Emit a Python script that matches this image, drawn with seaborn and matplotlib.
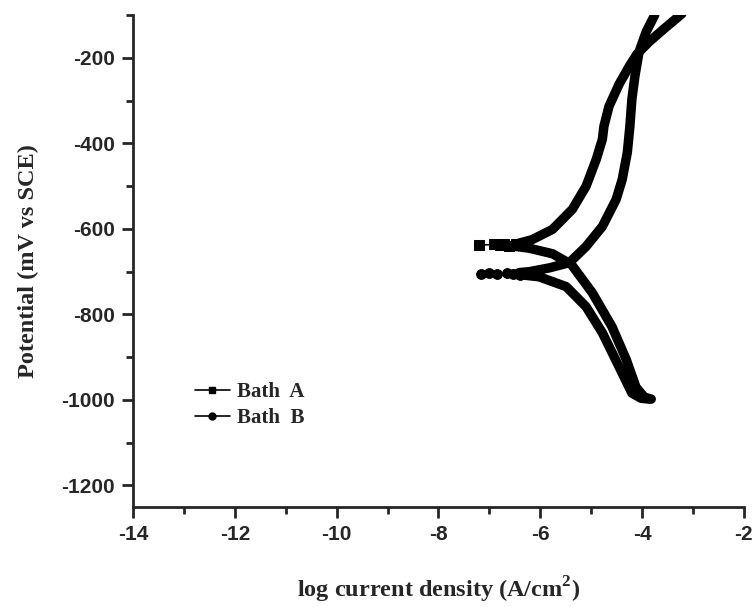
import numpy as np
import pandas as pd
import matplotlib
matplotlib.use('Agg')
import matplotlib.pyplot as plt
from matplotlib.lines import Line2D
from matplotlib.ticker import MultipleLocator
import seaborn as sns

# Tafel curves, in scan order (cathodic -> Ecorr -> anodic)
bath_a_logi = [-3.82, -3.96, -4.12, -4.31, -4.59, -4.98, -5.39, -5.76, -6.22,
               -6.61, -6.80, -7.20, -6.90, -6.71, -6.47,
               -6.16, -5.76, -5.37, -5.10, -4.90, -4.78, -4.75, -4.65, -4.45,
               -4.25, -4.10, -3.86, -3.57, -3.22]
bath_a_pot = [-998, -993, -970, -906, -829, -749, -683, -658, -645,
              -639, -638, -637, -636, -636, -635,
              -625, -601, -554, -500, -437, -390, -360, -313, -261,
              -219, -191, -162, -132, -97]

bath_b_logi = [-3.86, -4.02, -4.20, -4.45, -4.78, -5.10, -5.49, -6.02, -6.40,
               -6.53, -6.86, -7.16, -7.00, -6.65, -6.41, -6.22,
               -5.82, -5.43, -5.10, -4.78, -4.51, -4.39, -4.29, -4.24, -4.20,
               -4.14, -4.06, -3.92, -3.75]
bath_b_pot = [-998, -996, -984, -923, -843, -782, -735, -712, -707,
              -706, -706, -705, -704, -703, -702, -700,
              -691, -679, -641, -594, -531, -484, -421, -360, -296,
              -242, -186, -139, -99]

labels = ['Bath  A', 'Bath  B']
markers = ['s', 'o']

sns.set_style('ticks')
plt.rcParams['font.family'] = ['Liberation Sans', 'DejaVu Sans']
plt.rcParams['axes.unicode_minus'] = False
plt.rcParams['mathtext.fontset'] = 'custom'
plt.rcParams['mathtext.rm'] = 'Liberation Serif'
plt.rcParams['mathtext.bf'] = 'Liberation Serif:bold'

df = pd.concat([
    pd.DataFrame({'logi': bath_a_logi, 'pot': bath_a_pot, 'bath': labels[0]}),
    pd.DataFrame({'logi': bath_b_logi, 'pot': bath_b_pot, 'bath': labels[1]}),
], ignore_index=True)

fig = plt.figure(figsize=(7.56, 6.07), dpi=100)
ax = fig.add_axes([0.176, 0.165, 0.808, 0.81])

# thin line through every point, markers only where the scan is sparse (near Ecorr)
for name, m in zip(labels, markers):
    sub = df[df['bath'] == name].reset_index(drop=True)
    tail = list(sub.index[sub['logi'] < -6.3])
    sns.lineplot(data=sub, x='logi', y='pot', sort=False, estimator=None,
                 color='black', lw=0.8, marker=m, markersize=7,
                 markeredgecolor='black', markevery=tail, ax=ax)

# thick body of each curve (dense markers in the original)
for name in labels:
    sub = df[df['bath'] == name].copy()
    sub.loc[sub['logi'] < -6.62, 'pot'] = np.nan
    ax.plot(sub['logi'], sub['pot'], color='black', lw=6.8,
            solid_capstyle='round', solid_joinstyle='round')

ax.set_xlim(-14, -2)
ax.set_ylim(-1250, -100)
ax.xaxis.set_major_locator(MultipleLocator(2))
ax.xaxis.set_minor_locator(MultipleLocator(1))
ax.yaxis.set_major_locator(MultipleLocator(200))
ax.yaxis.set_minor_locator(MultipleLocator(100))
ax.set_yticks([-1200, -1000, -800, -600, -400, -200])

for side in ['top', 'right']:
    ax.spines[side].set_visible(False)
for side in ['left', 'bottom']:
    ax.spines[side].set_linewidth(2)
ax.tick_params(which='major', direction='out', length=8, width=2, labelsize=15, pad=5)
ax.tick_params(which='minor', direction='out', length=5, width=2)
for lab in ax.get_xticklabels() + ax.get_yticklabels():
    lab.set_fontweight('bold')

ax.set_xlabel(r'log current density (A/cm$^{\mathbf{2}}$)', family='Liberation Serif',
              fontweight='bold', fontsize=17.5, labelpad=22)
ax.set_ylabel('Potential (mV vs SCE)', family='Liberation Serif',
              fontweight='bold', fontsize=17.5, labelpad=16)

handles = [Line2D([], [], color='black', lw=1.2, marker=m, markersize=5) for m in markers]
ax.legend(handles, labels, loc='center left', bbox_to_anchor=(0.07, 0.207),
          frameon=False, handlelength=1.7, handletextpad=0.35, labelspacing=0.3,
          prop={'family': 'Liberation Serif', 'weight': 'bold', 'size': 15})

fig.savefig('out.png', dpi=100)
